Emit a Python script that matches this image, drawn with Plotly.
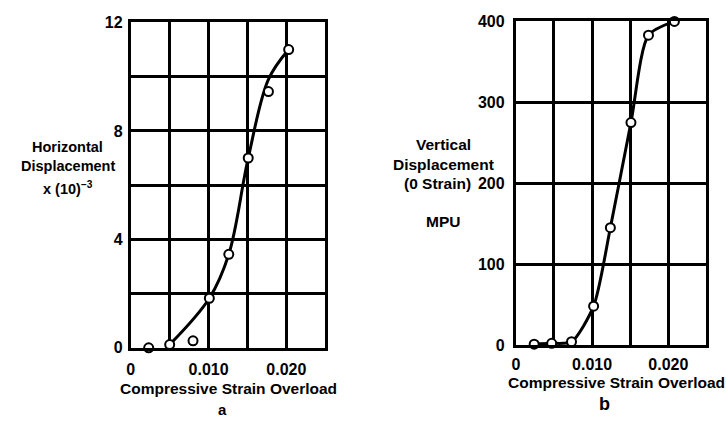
import plotly.graph_objects as go

W, H = 726, 426

# ---- data: panel a (horizontal displacement) ----
a_strain = [0.0023, 0.0050, 0.0080, 0.0101, 0.0126, 0.0151, 0.0177, 0.0203]
a_disp = [0.0, 0.12, 0.26, 1.83, 3.45, 7.0, 9.45, 11.0]
# hand-drawn fitted curve through panel a
a_curve_x = [0.0050, 0.0101, 0.0126, 0.0151, 0.0177, 0.0203]
a_curve_y = [0.12, 1.83, 3.45, 7.0, 9.9, 11.0]

# ---- data: panel b (vertical displacement) ----
b_strain = [0.0024, 0.0047, 0.0073, 0.0102, 0.0124, 0.0151, 0.0174, 0.0208]
b_disp = [1, 2, 4, 48, 145, 275, 383, 400]

x_ticks = [0, 0.010, 0.020]
x_ticktext = ["0", "0.010", "0.020"]
x_minor = [0.005, 0.015]
a_y_ticks = [0, 4, 8, 12]
a_y_ticktext = ["0", "4", "8", "12"]
a_y_minor = [2, 6, 10]
b_y_ticks = [0, 100, 200, 300, 400]
b_y_ticktext = ["0", "100", "200", "300", "400"]

FONT = "Liberation Sans, Arial, sans-serif"


def px_x(p):
    return p / W


def px_y(p):
    return 1 - p / H


fig = go.Figure()

line_style = dict(color="black", width=3)
marker_style = dict(symbol="circle", size=9, color="white",
                    line=dict(color="black", width=2))

fig.add_trace(go.Scatter(x=a_curve_x, y=a_curve_y, mode="lines",
                         line=dict(shape="spline", smoothing=1.0, **line_style),
                         xaxis="x", yaxis="y", cliponaxis=False, hoverinfo="skip"))
fig.add_trace(go.Scatter(x=a_strain, y=a_disp, mode="markers", marker=marker_style,
                         xaxis="x", yaxis="y", cliponaxis=False))
fig.add_trace(go.Scatter(x=b_strain, y=b_disp, mode="lines",
                         line=dict(shape="spline", smoothing=0.7, **line_style),
                         xaxis="x2", yaxis="y2", cliponaxis=False, hoverinfo="skip"))
fig.add_trace(go.Scatter(x=b_strain, y=b_disp, mode="markers", marker=marker_style,
                         xaxis="x2", yaxis="y2", cliponaxis=False))

tickfont = dict(family=FONT, size=16, color="black", weight="bold")

axis_common = dict(showgrid=True, gridcolor="black", gridwidth=2.5,
                   showline=True, linecolor="black", linewidth=3, mirror=True,
                   zeroline=False, ticks="", tickfont=tickfont, fixedrange=True)


def minor(vals):
    return dict(tickvals=vals, showgrid=True, gridcolor="black", gridwidth=2.5, ticks="")


fig.update_layout(
    width=W, height=H,
    margin=dict(l=0, r=0, t=0, b=0),
    paper_bgcolor="white", plot_bgcolor="white",
    showlegend=False,
    xaxis=dict(domain=[px_x(127.5), px_x(323)], range=[0, 0.025],
               tickvals=x_ticks, ticktext=x_ticktext, minor=minor(x_minor),
               anchor="y", ticklabelstandoff=5, **axis_common),
    yaxis=dict(domain=[px_y(354), px_y(15)], range=[0, 12],
               tickvals=a_y_ticks, ticktext=a_y_ticktext, minor=minor(a_y_minor),
               anchor="x", ticklabelstandoff=2, **axis_common),
    xaxis2=dict(domain=[px_x(514.7), px_x(706.3)], range=[0, 0.025],
                tickvals=x_ticks, ticktext=x_ticktext, minor=minor(x_minor),
                anchor="y2", ticklabelstandoff=3, **axis_common),
    yaxis2=dict(domain=[px_y(351), px_y(14)], range=[0, 400],
                tickvals=b_y_ticks, ticktext=b_y_ticktext,
                anchor="x2", ticklabelstandoff=5, **axis_common),
)

lab = dict(family=FONT, color="black", weight="bold")


def ann(text, x, y, size=16, xanchor="center"):
    fig.add_annotation(text=text, x=px_x(x), y=px_y(y), xref="paper", yref="paper",
                       showarrow=False, xanchor=xanchor, yanchor="middle",
                       font=dict(lab, size=size), align="center")


ann("Horizontal", 64, 145, 14.5)
ann("Displacement", 64, 165, 14.5)
ann("x (10)<sup>−3</sup>", 64, 188, 14.5)
ann("Compressive Strain Overload", 226, 396, 15.5)
ann("a", 220, 418, 15)

ann("Vertical", 442, 142, 15.5)
ann("Displacement", 442, 163, 15.5)
ann("(0 Strain)", 436, 183, 15.5)
ann("MPU", 441, 222, 15.5)
ann("Compressive Strain Overload", 616, 390, 15.5)
ann("b", 604, 412, 18)

fig.write_html("out.html")
